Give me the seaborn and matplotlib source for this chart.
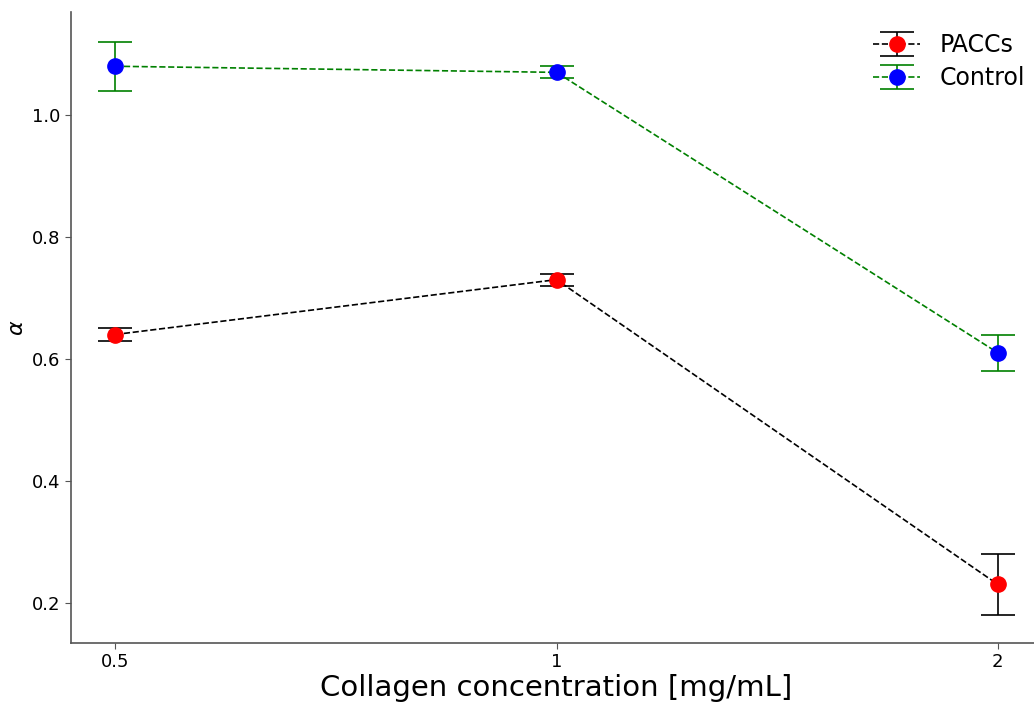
import numpy as np
import matplotlib
matplotlib.use('Agg')
import matplotlib.pyplot as plt
import seaborn as sns

# Data
concentrations = ['0.5', '1', '2']
paccs_alpha = [0.64, 0.73, 0.23]
paccs_err = [0.01, 0.01, 0.05]
control_alpha = [1.08, 1.07, 0.61]
control_err = [0.04, 0.01, 0.03]

sns.set_style('white')
plt.rcParams['font.family'] = ['DejaVu Sans']
plt.rcParams['text.color'] = 'black'
plt.rcParams['axes.labelcolor'] = 'black'
plt.rcParams['xtick.color'] = 'black'
plt.rcParams['ytick.color'] = 'black'

fig = plt.figure(figsize=(10.34, 7.04), dpi=100)
# axes runs slightly past the right edge of the figure, as in the original
ax = fig.add_axes([71 / 1034, 1 - 643 / 704, (1042 - 71) / 1034, (643 - 12) / 704])

x = np.arange(len(concentrations))

ax.errorbar(x, paccs_alpha, yerr=paccs_err, fmt='o--', color='black', mfc='red', mec='red',
            ms=11, lw=1.2, ecolor='black', elinewidth=1.2, capsize=12, capthick=1.2, label='PACCs')
ax.errorbar(x, control_alpha, yerr=control_err, fmt='o--', color='green', mfc='blue', mec='blue',
            ms=11, lw=1.2, ecolor='green', elinewidth=1.2, capsize=12, capthick=1.2, label='Control')

ax.set_xticks(x)
ax.set_xticklabels(concentrations)
ax.set_xlim(-0.1, 2.1)
ax.set_ylim(0.134, 1.169)
ax.set_yticks([0.2, 0.4, 0.6, 0.8, 1.0])

ax.set_xlabel('Collagen concentration [mg/mL]', fontsize=21, labelpad=2)
ax.set_ylabel(r'$\alpha$', fontsize=16)
ax.tick_params(axis='both', labelsize=13, length=4, bottom=True, left=True)
ax.tick_params(axis='both', color='#555555')

sns.despine(ax=ax)
for side in ['left', 'bottom']:
    ax.spines[side].set_color('#555555')
    ax.spines[side].set_linewidth(1.2)

ax.legend(loc='upper right', frameon=False, fontsize=17, labelspacing=0.37,
          bbox_to_anchor=(1.004, 1.0))

fig.savefig('out.png', dpi=100)
